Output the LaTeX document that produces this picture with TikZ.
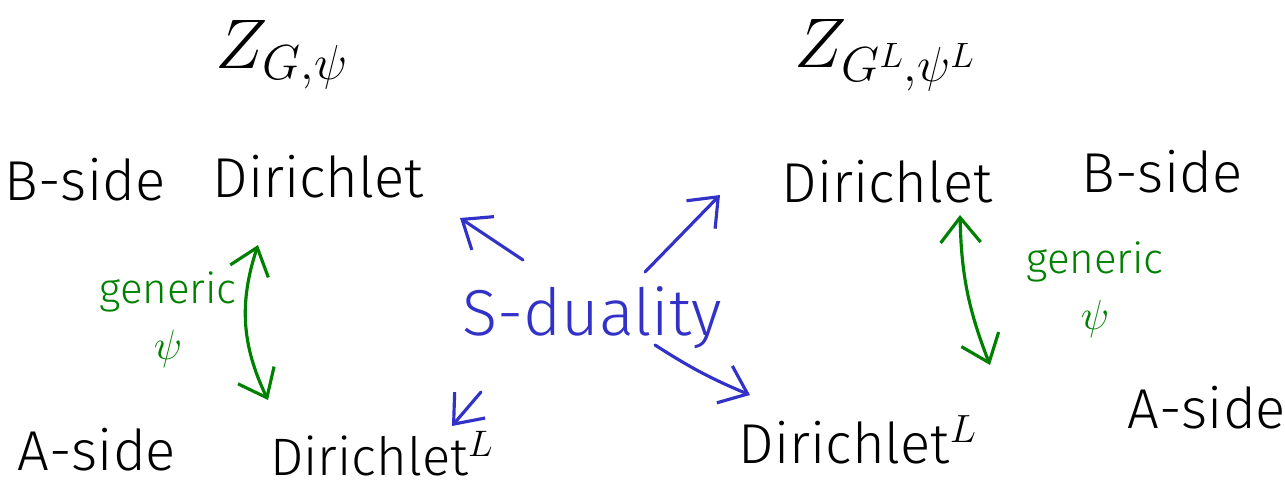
\RequirePackage{fix-cm}
\documentclass[tikz,border=0pt]{standalone}
\usepackage{fontspec}
\setmainfont{Fira Sans Light}
\usetikzlibrary{arrows.meta,calc}
\definecolor{dualblue}{RGB}{50,50,200}
\definecolor{gengreen}{RGB}{0,128,0}
\tikzset{
  word/.style={font=\fontsize{32}{34}\selectfont, inner sep=0pt},
  big/.style={font=\fontsize{40}{44}\selectfont, inner sep=0pt},
  gen/.style={font=\fontsize{24}{32}\selectfont, text=gengreen, inner sep=0pt, align=center},
  dual/.style={->, >={Straight Barb[length=5mm,width=8mm]}, line width=1.8pt, dualblue, line cap=round},
  swap/.style={<->, >={Straight Barb[length=5mm,width=8mm]}, line width=1.8pt, gengreen, line cap=round},
}
\begin{document}
\begin{tikzpicture}[x=0.02cm, y=-0.02cm]
\useasboundingbox (0,0) rectangle (1285,494);
% partition functions
\node[big] (zl) at (282,55) {$Z_{G,\psi}$};
\node[big] (zr) at (885,55) {$Z_{G^L,\psi^L}$};
% left side
\node[word] (bl) at (85,180) {B-side};
\node[word] (dl) at (318,177) {Dirichlet};
\node[word] (al) at (97,450) {A-side};
\node[word, font=\fontsize{30}{32}\selectfont] (dll) at (382,454) {Dirichlet$^L$};
% right side
\node[word] (dr) at (887,182) {Dirichlet};
\node[word] (br) at (1162,172) {B-side};
\node[word] (drl) at (858,440) {Dirichlet$^L$};
\node[word] (ar) at (1207,408) {A-side};
% generic psi
\node[gen] (gl) at (168,320) {generic\\$\psi$};
\node[gen] (gr) at (1095,290) {generic\\$\psi$};
\coordinate (ul) at (258,245);
\coordinate (vl) at (268,400);
\draw[swap] (ul) to[bend right=22] (vl);
\coordinate (ur) at (960,215);
\coordinate (vr) at (990,365);
\draw[swap] (ur) to[bend right=10] (vr);
% S-duality
\node[font=\fontsize{37}{40}\selectfont, text=dualblue, inner sep=2pt] (sd) at (592,318) {S-duality};
\coordinate (el) at (460,218);
\coordinate (er) at (720,195);
\coordinate (fl) at (452,426);
\coordinate (fr) at (750,395);
\draw[dual] (523,260) -- (el);
\draw[dual] (645,272) -- (er);
\draw[dual] (481,392) -- (fl);
\draw[dual] (655,345) to[bend right=5] (fr);
\end{tikzpicture}
\end{document}
